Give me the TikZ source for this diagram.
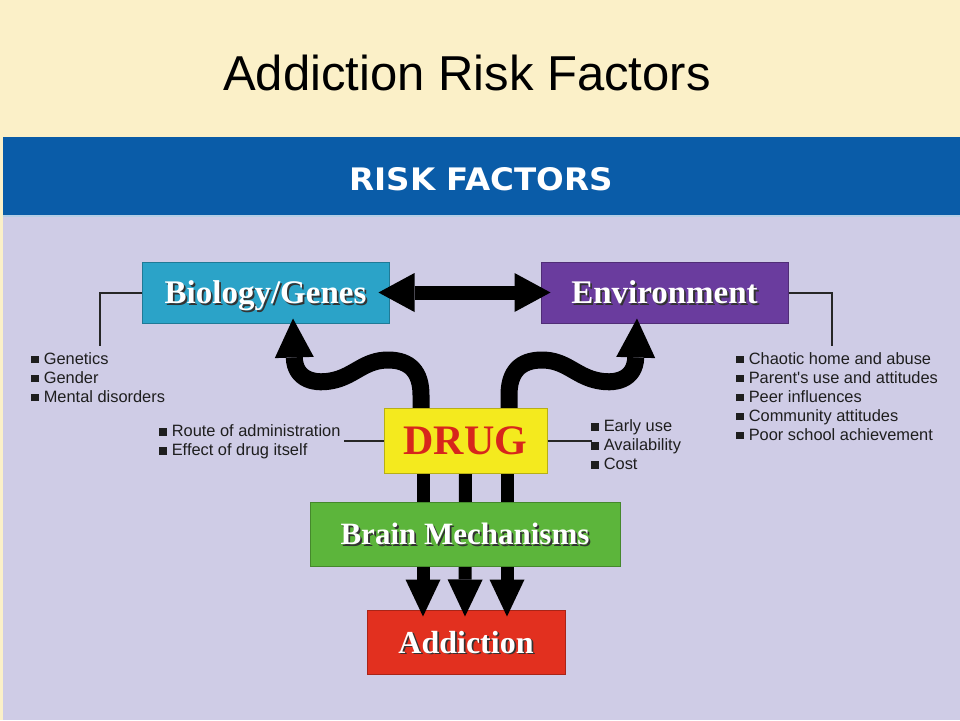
\documentclass[tikz,border=0pt]{standalone}
\usepackage{fontspec}
\setmainfont{Liberation Serif}
\newfontfamily\titlefont{Liberation Sans}
\newfontfamily\bandfont[FakeStretch=1.05]{DejaVu Sans}
\newfontfamily\listfont{Liberation Sans}
\usetikzlibrary{arrows.meta,calc}
\pgfdeclarelayer{bg}\pgfdeclarelayer{lower}\pgfdeclarelayer{arrows}
\pgfsetlayers{bg,lower,arrows,main}

\definecolor{topbg}{HTML}{FBF0C8}
\definecolor{band}{HTML}{0A5CA8}
\definecolor{panel}{HTML}{CFCCE6}
\definecolor{biocol}{HTML}{2BA3C8}
\definecolor{envcol}{HTML}{6A3C9E}
\definecolor{drugcol}{HTML}{F4EA1E}
\definecolor{drugtxt}{HTML}{D7261C}
\definecolor{braincol}{HTML}{5CB53B}
\definecolor{addcol}{HTML}{E2301F}
\definecolor{listtxt}{HTML}{1E1E1E}

\newcommand\shtext[1]{\makebox[0pt][l]{\hspace{0.9pt}\raisebox{-0.9pt}{\color{black!80}#1}}#1}
\newcommand\bul{\rule[0.6pt]{3.6pt}{3.6pt}\hspace{2.6pt}}

\tikzset{
  box/.style={rectangle, inner sep=0pt, draw=#1!75!black, line width=0.5pt, fill=#1,
    text=white, font=\bfseries\fontsize{16.5}{18}\selectfont, text height=11pt, text depth=0pt},
  listnode/.style={align=left, inner sep=0pt, text=listtxt,
    font=\listfont\fontsize{8.2}{9.5}\selectfont},
  conn/.style={draw=black!85, line width=1pt},
  fat/.style={line width=7pt, draw=black},
  wave/.style={line width=8.5pt, draw=black, -{Triangle[width=19.5pt,length=19.5pt,line width=0pt]}},
  down/.style={line width=6.5pt, draw=black, -{Triangle[width=17.5pt,length=18.5pt,line width=0pt]}},
}

\begin{document}
\begin{tikzpicture}[x=0.5pt,y=-0.5pt]
\useasboundingbox (0,0) rectangle (960,720);

\begin{pgfonlayer}{bg}
  \fill[topbg] (0,0) rectangle (960,720);
  \fill[band] (3,137) rectangle (960,216);
  \fill[panel] (3,216) rectangle (960,720);
  \draw[white!70!band, line width=0.6pt] (3,216) -- (960,216);
\end{pgfonlayer}

\node[anchor=base, inner sep=0pt, font=\titlefont\fontsize{24.5}{28}\selectfont] (title) at (467,90) {Addiction Risk Factors};
\node[anchor=base, inner sep=0pt, text=white, font=\bandfont\bfseries\fontsize{15.5}{18}\selectfont] (band) at (481,190) {RISK FACTORS};

\begin{pgfonlayer}{lower}
  \node[box=biocol, minimum width=123.5pt, minimum height=30.5pt] (bio) at (265.5,292.5) {\shtext{Biology/Genes}};
  \node[box=envcol, minimum width=123.5pt, minimum height=30.5pt] (env) at (664.5,292.5) {\shtext{Environment}};
  \node[box=addcol, minimum width=99pt, minimum height=32pt, font=\bfseries\fontsize{16}{18}\selectfont] (add) at (466,642) {\shtext{Addiction}};
\end{pgfonlayer}

\node[box=drugcol, minimum width=81.5pt, minimum height=32.5pt, text=drugtxt,
  font=\bfseries\fontsize{21}{24}\selectfont, text height=13.9pt] (drug) at (465.5,440.5) {DRUG};
\node[box=braincol, minimum width=155pt, minimum height=32pt,
  font=\bfseries\fontsize{15.5}{18}\selectfont, text height=10.3pt] (brain) at (465,534) {\shtext{Brain Mechanisms}};

% lists
\node[listnode, anchor=west] (biolist) at (31,377.5) {\bul Genetics\\\bul Gender\\\bul Mental disorders};
\node[listnode, anchor=west] (envlist) at (736,396.5) {\bul Chaotic home and abuse\\\bul Parent's use and attitudes\\\bul Peer influences\\\bul Community attitudes\\\bul Poor school achievement};
\node[listnode, anchor=west] (druglist) at (159,442) {\bul Route of administration\\\bul Effect of drug itself};
\node[listnode, anchor=west] (availlist) at (591,445) {\bul Early use\\\bul Availability\\\bul Cost};

\coordinate (biotick) at (100,346);
\coordinate (envtick) at (832,346);
\draw[conn] (bio.west) -| (biotick);
\draw[conn] (env.east) -| (envtick);
\draw[conn] (drug.west) -- ++(-40,0) coordinate (dltick);
\draw[conn] (drug.east) -- ++(44,0) coordinate (drtick);

% arrows
\begin{pgfonlayer}{arrows}
  \draw[fat, {Triangle[width=19.5pt,length=18pt,line width=0pt]}-{Triangle[width=19.5pt,length=18pt,line width=0pt]}]
    ([xshift=-5.5pt]bio.east) -- ([xshift=5pt]env.west);
  % waves from the drug box up to the two upper boxes
  \draw[wave] ($(drug.north)+(-44.5,20)$) -- (421,395)
    .. controls (421,372) and (410,360) .. (388,360)
    .. controls (365,360) and (355,375) .. (335,380)
    .. controls (315,385) and (295,380) .. ($(bio.south)+(27.5,-5)$);
  \draw[wave] ($(drug.north)+(43.5,20)$) -- (509,395)
    .. controls (509,372) and (520,360) .. (542,360)
    .. controls (565,360) and (575,375) .. (595,380)
    .. controls (615,385) and (635,380) .. ($(env.south)+(-27.5,-5)$);
  % three arrows from the drug box down to addiction
  \draw[down] ($(drug.south)+(-42.5,-20)$) -- ($(add.north)+(-43,7)$);
  \draw[down] (drug.south) -- ($(add.north)+(-1,7)$);
  \draw[down] ($(drug.south)+(41.5,-20)$) -- ($(add.north)+(41,7)$);
\end{pgfonlayer}
\end{tikzpicture}
\end{document}
